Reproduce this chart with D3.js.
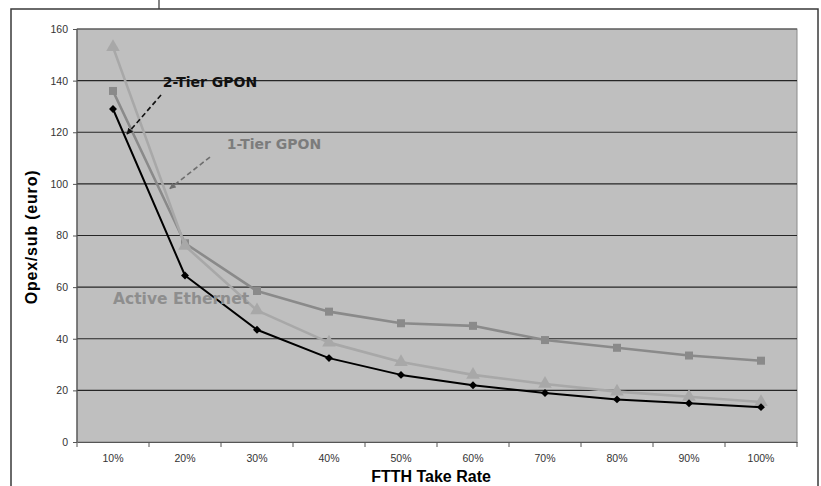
<!DOCTYPE html>
<html>
<head>
<meta charset="utf-8">
<script src="https://cdn.jsdelivr.net/npm/d3@7"></script>
<style>
  body { margin: 0; background: #fff; }
  svg { display: block; }
</style>
</head>
<body>
<div id="chart"></div>
<script>
// chart data
var categories = ["10%", "20%", "30%", "40%", "50%", "60%", "70%", "80%", "90%", "100%"];
var yTicks = [0, 20, 40, 60, 80, 100, 120, 140, 160];
var twoTier = [129, 64.5, 43.5, 32.5, 26, 22, 19, 16.5, 15, 13.5];
var oneTier = [136, 77, 58.5, 50.5, 46, 45, 39.5, 36.5, 33.5, 31.5];
var activeEth = [153, 76, 51, 38.5, 31, 26, 22.5, 19.5, 17.5, 15.5];

var width = 821, height = 486;
var plotLeft = 77, plotRight = 797, plotTop = 29, plotBottom = 442;

var svg = d3.select('#chart')
    .append('svg')
    .attr('width', width)
    .attr('height', height);

var x = d3.scaleBand().domain(categories).range([plotLeft, plotRight]);
var y = d3.scaleLinear().domain([0, 160]).range([plotBottom, plotTop]);
// category index -> pixel (for the annotations)
var xi = (i) => x(categories[0]) + x.bandwidth() / 2 + i * x.step();

// outer frame
svg.append('line')
    .attr('x1', 159).attr('x2', 159).attr('y1', 0).attr('y2', 9)
    .attr('stroke', '#333').attr('stroke-width', 1.2);
svg.append('rect')
    .attr('x', 11).attr('y', 9).attr('width', 807).attr('height', 500)
    .attr('fill', 'none').attr('stroke', '#3a3a3a').attr('stroke-width', 1.5);

// plot area
svg.append('rect')
    .attr('x', plotLeft).attr('y', plotTop)
    .attr('width', plotRight - plotLeft).attr('height', plotBottom - plotTop)
    .attr('fill', '#bfbfbf')
    .attr('stroke', '#8a8a8a');

svg.append('g')
    .selectAll('line')
    .data(yTicks.filter(d => d > 0))
    .enter()
    .append('line')
    .attr('x1', plotLeft).attr('x2', plotRight)
    .attr('y1', d => y(d)).attr('y2', d => y(d))
    .attr('stroke', d => d == 160 ? '#444' : '#262626')
    .attr('stroke-width', 1.1);

svg.append('line')
    .attr('x1', plotLeft).attr('x2', plotLeft).attr('y1', plotTop).attr('y2', plotBottom)
    .attr('stroke', '#555').attr('stroke-width', 1.2);

// y axis
var yAxis = svg.append('g')
    .attr('transform', `translate(${plotLeft},0)`)
    .call(d3.axisLeft(y).tickValues(yTicks).tickSize(4).tickPadding(5));
yAxis.select('.domain').remove();
yAxis.selectAll('line').attr('stroke', '#555');
yAxis.selectAll('text')
    .style('font-family', '"Liberation Sans", Arial, sans-serif')
    .style('font-size', '10.5px')
    .attr('fill', '#333');

// x axis
var xAxis = svg.append('g')
    .attr('transform', `translate(0,${plotBottom})`)
    .call(d3.axisBottom(x).tickSize(0).tickPadding(13));
xAxis.select('.domain').attr('stroke', '#555');
xAxis.selectAll('text')
    .style('font-family', '"Liberation Sans", Arial, sans-serif')
    .style('font-size', '10.5px')
    .attr('fill', '#333');
xAxis.selectAll('.edge')
    .data(d3.range(categories.length + 1))
    .enter()
    .append('line')
    .attr('x1', i => plotLeft + i * x.step()).attr('x2', i => plotLeft + i * x.step())
    .attr('y1', 0).attr('y2', 5)
    .attr('stroke', '#555');

// axis titles
svg.append('text')
    .attr('x', (plotLeft + plotRight) / 2 - 6).attr('y', 482)
    .attr('text-anchor', 'middle')
    .style('font-family', '"Liberation Sans", Arial, sans-serif')
    .style('font-weight', 'bold').style('font-size', '16px')
    .text('FTTH Take Rate');

svg.append('text')
    .attr('transform', 'translate(37,237) rotate(-90)')
    .attr('text-anchor', 'middle')
    .style('font-family', '"Liberation Sans", Arial, sans-serif')
    .style('font-weight', 'bold').style('font-size', '16px')
    .style('letter-spacing', '0.8px')
    .text('Opex/sub (euro)');

// series
var diamond = d3.symbolDiamond2 || d3.symbolDiamond;
var series = [
    {name: '1-Tier GPON', values: oneTier, color: '#8a8a8a', width: 2.6, shape: d3.symbolSquare, size: 64},
    {name: 'Active Ethernet', values: activeEth, color: '#a8a8a8', width: 2.6, shape: d3.symbolTriangle, size: 80},
    {name: '2-Tier GPON', values: twoTier, color: '#000', width: 2, shape: diamond, size: 40}
];

var line = d3.line()
    .x((d, i) => x(categories[i]) + x.bandwidth() / 2)
    .y(d => y(d));

series.forEach(function(s) {
    svg.append('path')
        .datum(s.values)
        .attr('d', line)
        .attr('fill', 'none')
        .attr('stroke', s.color)
        .attr('stroke-width', s.width)
        .attr('stroke-linejoin', 'round');

    svg.append('g')
        .selectAll('path')
        .data(s.values)
        .enter()
        .append('path')
        .attr('transform', (d, i) => `translate(${x(categories[i]) + x.bandwidth() / 2},${y(d)})`)
        .attr('d', d3.symbol().type(s.shape).size(s.size))
        .attr('fill', s.color);
});

// annotations (positions in category index / value units)
var labels = [
    {text: '2-Tier GPON', i: 0.69, v: 137.5, color: '#111', size: 14},
    {text: '1-Tier GPON', i: 1.58, v: 113.5, color: '#7c7c7c', size: 14},
    {text: 'Active Ethernet', i: 0, v: 53.5, color: '#8e8e8e', size: 15.5}
];
var arrows = [
    {i1: 0.667, v1: 134.4, i2: 0.194, v2: 119.3, color: '#111'},
    {i1: 1.347, v1: 110.4, i2: 0.79, v2: 98.2, color: '#6e6e6e'}
];

var defs = svg.append('defs');
arrows.forEach(function(a, k) {
    defs.append('marker')
        .attr('id', 'head' + k)
        .attr('viewBox', '0 0 10 10')
        .attr('refX', 9).attr('refY', 5)
        .attr('markerWidth', 4).attr('markerHeight', 4)
        .attr('orient', 'auto')
        .append('path')
        .attr('d', 'M0,0L10,5L0,10Z')
        .attr('fill', a.color);
});

svg.append('g')
    .selectAll('line')
    .data(arrows)
    .enter()
    .append('line')
    .attr('x1', a => xi(a.i1)).attr('y1', a => y(a.v1))
    .attr('x2', a => xi(a.i2)).attr('y2', a => y(a.v2))
    .attr('stroke', a => a.color)
    .attr('stroke-width', 1.6)
    .attr('stroke-dasharray', '5,3')
    .attr('marker-end', (a, k) => `url(#head${k})`);

svg.append('g')
    .selectAll('text')
    .data(labels)
    .enter()
    .append('text')
    .attr('x', d => xi(d.i)).attr('y', d => y(d.v))
    .attr('fill', d => d.color)
    .style('font-family', '"DejaVu Sans", Verdana, sans-serif')
    .style('font-weight', 'bold')
    .style('font-size', d => d.size + 'px')
    .text(d => d.text);
</script>
</body>
</html>
